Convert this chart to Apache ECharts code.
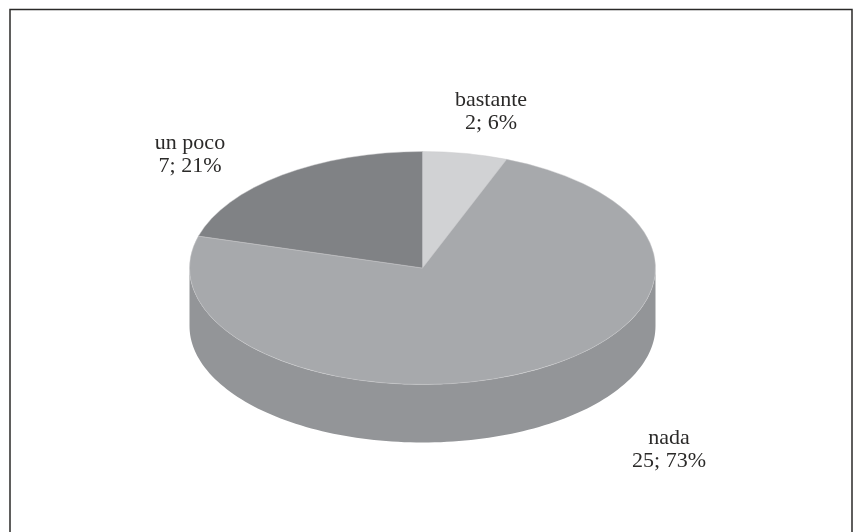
<!DOCTYPE html>
<html>
<head>
<meta charset="utf-8">
<style>html,body{margin:0;padding:0;background:#fff}#chart{width:853px;height:532px}</style>
<script src="https://cdn.jsdelivr.net/npm/echarts@6/dist/echarts.min.js"></script>
</head>
<body>
<div id="chart"></div>
<script>
// Survey answers, clockwise from twelve o'clock
const categories = ['bastante', 'nada', 'un poco'];
const counts = [2, 25, 7];
const percents = [6, 73, 21];
const topColors = ['#d1d2d4', '#a7a9ac', '#808285'];
const wallColor = '#939598';

const total = counts.reduce((a, b) => a + b, 0);
const TILT = 0.5;
const chart = echarts.init(document.getElementById('chart'), null, {renderer: 'canvas'});

// Elliptical disc geometry, in pixels of the chart area
const disc = {cx: 422.5, cy: 268, rx: 233, depth: 58};
const labelAnchors = [[491, 111.5], [669, 449.5], [190, 155]];

function startAngleOf(i) {
  let sum = 0;
  for (let k = 0; k < i; k++) sum += counts[k];
  return sum / total * Math.PI * 2 - Math.PI / 2;
}

function renderSlice(params, api) {
  const i = api.value(0);
  const a0 = startAngleOf(i);
  const a1 = a0 + api.value(1) / total * Math.PI * 2;
  const children = [];
  // Visible part of the outer wall: the front half of the rim only
  const w0 = Math.max(a0, 0), w1 = Math.min(a1, Math.PI);
  if (w1 > w0) {
    const ry = disc.rx * TILT;
    const pts = [];
    const steps = 120;
    for (let s = 0; s <= steps; s++) {
      const a = w0 + (w1 - w0) * s / steps;
      pts.push([disc.cx + disc.rx * Math.cos(a), disc.cy + ry * Math.sin(a)]);
    }
    for (let s = steps; s >= 0; s--) {
      const a = w0 + (w1 - w0) * s / steps;
      pts.push([disc.cx + disc.rx * Math.cos(a), disc.cy + disc.depth + ry * Math.sin(a)]);
    }
    children.push({type: 'polygon', shape: {points: pts}, style: {fill: wallColor, stroke: 'none'}});
  }
  // Top face: a sector flattened around the disc centre
  children.push({
    type: 'sector',
    x: disc.cx, y: disc.cy,
    scaleY: TILT,
    shape: {cx: 0, cy: 0, r0: 0, r: disc.rx, startAngle: a0, endAngle: a1, clockwise: true},
    style: {fill: topColors[i], stroke: '#c9cacc', lineWidth: 0.6}
  });
  return {type: 'group', children};
}

function renderLabel(params, api) {
  const i = api.value(0);
  return {
    type: 'text',
    style: {
      x: labelAnchors[i][0], y: labelAnchors[i][1],
      text: categories[i] + '\n' + api.value(1) + '; ' + percents[i] + '%',
      fill: '#2b2a29',
      font: '22px "Liberation Serif"',
      lineHeight: 23,
      align: 'center',
      verticalAlign: 'middle'
    }
  };
}

const rows = categories.map((c, i) => [i, counts[i]]);

chart.setOption({
  animation: false,
  backgroundColor: '#fff',
  graphic: [{
    // Frame, open at the bottom where the page cuts it off
    type: 'polyline',
    shape: {points: [[10, 532], [10, 9.5], [852, 9.5], [852, 532]]},
    style: {fill: 'none', stroke: '#2b2a29', lineWidth: 1.5},
    silent: true
  }],
  xAxis: {show: false},
  yAxis: {show: false},
  grid: {left: 0, right: 0, top: 0, bottom: 0},
  series: [
    {type: 'custom', coordinateSystem: 'none', data: rows, renderItem: renderSlice, silent: true},
    {type: 'custom', coordinateSystem: 'none', data: rows, renderItem: renderLabel, silent: true, z: 5}
  ]
});
</script>
</body>
</html>
